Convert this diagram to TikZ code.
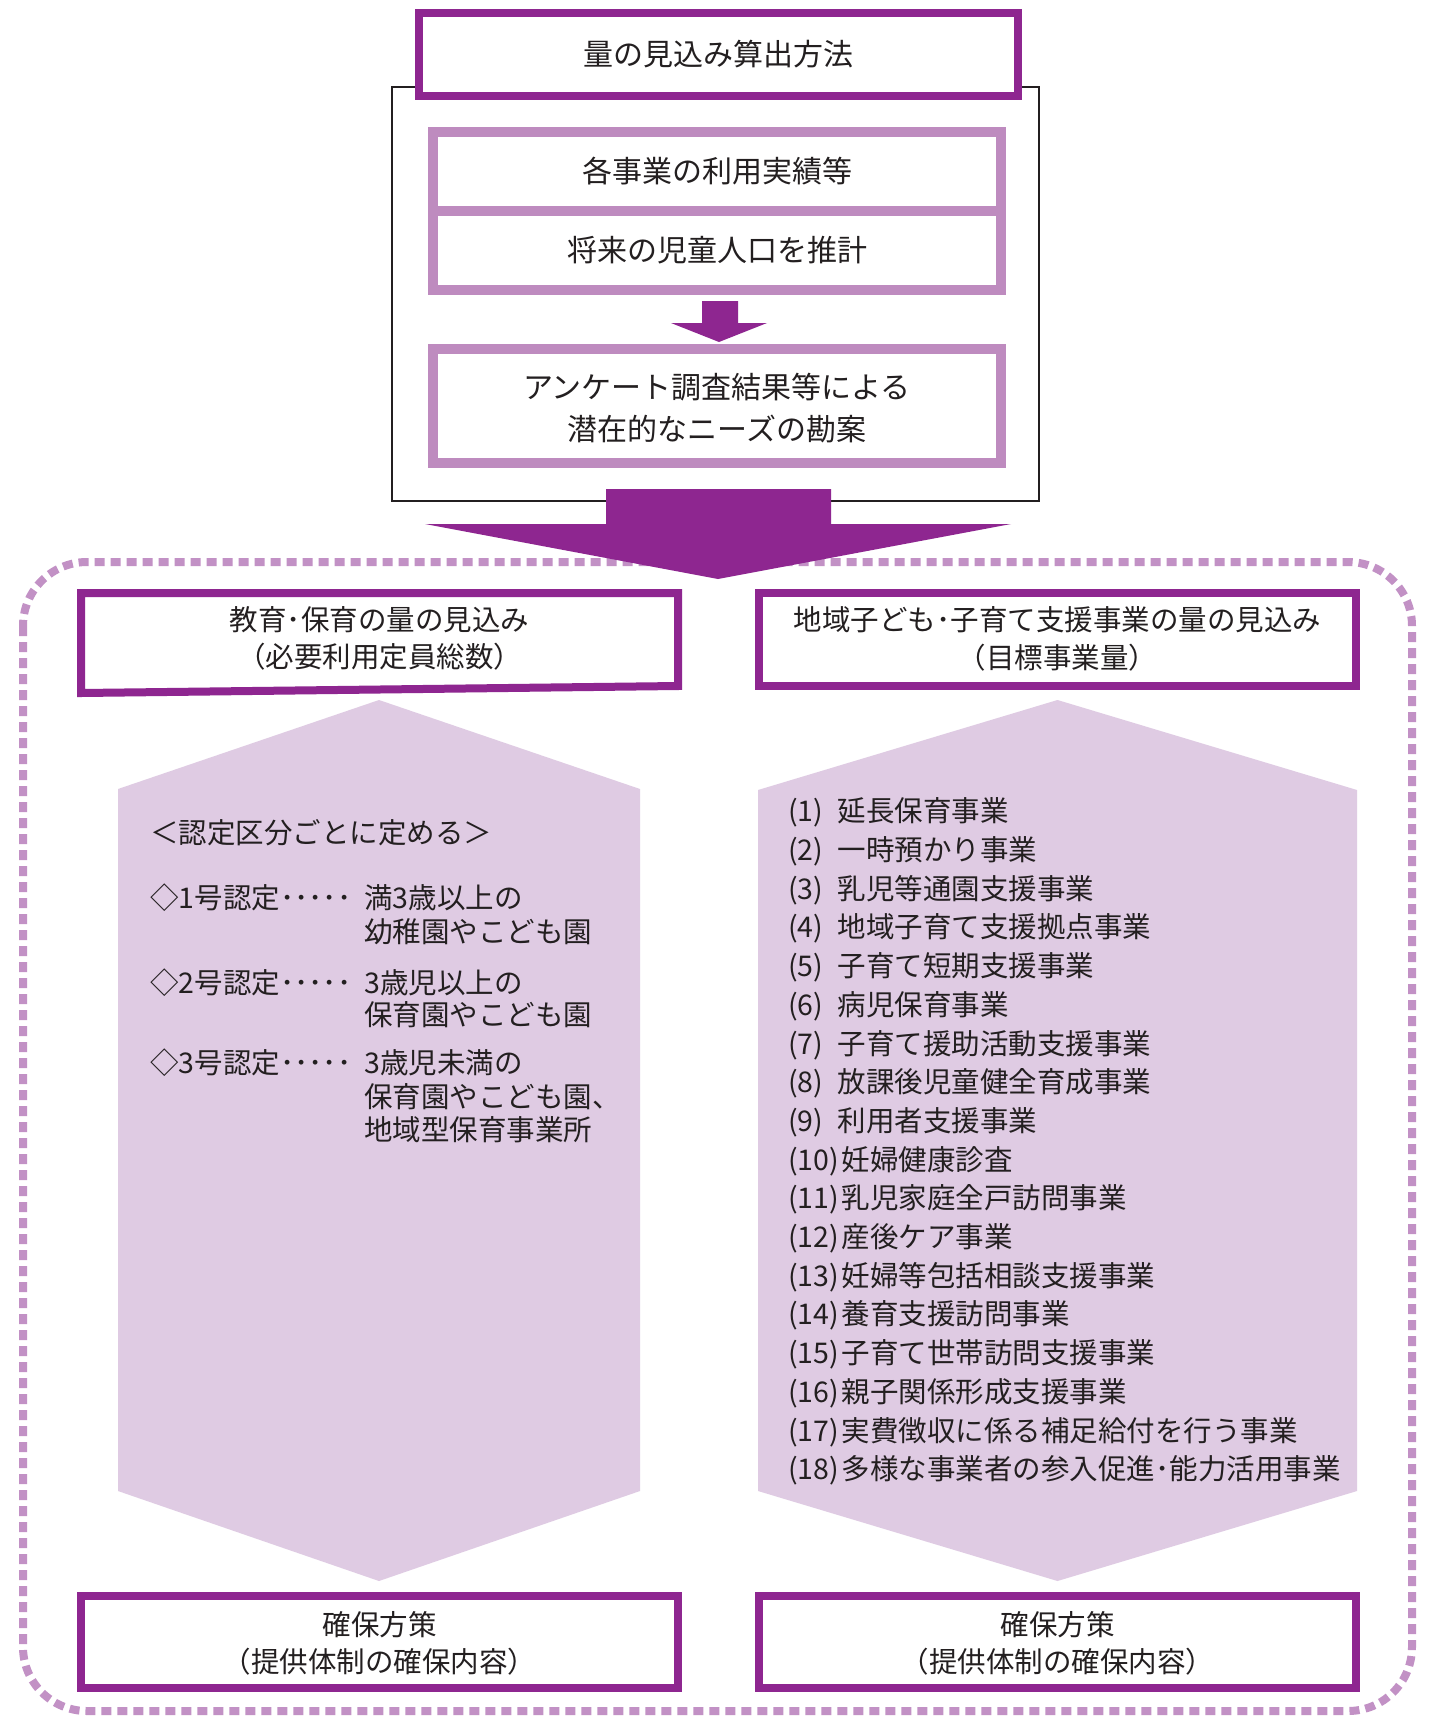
\documentclass[tikz,border=0pt]{standalone}
\usepackage{fontspec}
\setmainfont{Noto Sans CJK JP}
\definecolor{dpurple}{HTML}{8E2690}
\definecolor{lpurple}{HTML}{BE8BBF}
\definecolor{hexfill}{HTML}{DFCBE3}
\definecolor{dashcol}{HTML}{C291C5}
\definecolor{ink}{HTML}{231F20}
\begin{document}
\begin{tikzpicture}[x=1pt,y=-1pt,
  tbig/.style={inner sep=0pt, text=ink, font=\fontsize{30}{36}\selectfont, text height=26.4pt, text depth=3.6pt},
  tmid/.style={inner sep=0pt, text=ink, font=\fontsize{28.5}{34}\selectfont, text height=25.1pt, text depth=3.4pt},
  darkbox/.style={draw=dpurple, line width=8pt, fill=white, inner sep=0pt},
  lightbox/.style={draw=lpurple, line width=10pt, fill=white, inner sep=0pt},
  hexa/.style={fill=hexfill, draw=none},
  dashframe/.style={draw=dashcol, line width=8pt, dash pattern=on 10pt off 6pt, rounded corners=64pt}
]
\useasboundingbox (0,0) rectangle (1433,1719);
\fill[white] (0,0) rectangle (1433,1719);

% dashed frame
\draw[dashframe] (23,562) rectangle (1412,1711);

% black outer frame of top section
\draw[line width=2.5pt, draw=ink] (392,87) rectangle (1039,501);

% title box
\node[darkbox, tbig, minimum width=599pt, minimum height=83pt] (title) at (718,54) {量の見込み算出方法};

% light boxes
\node[lightbox, tbig, minimum width=568pt, minimum height=79.5pt] (b1) at (717,171.25) {各事業の利用実績等};
\node[lightbox, tbig, minimum width=568pt, minimum height=79pt] (b2) at (717,250.5) {将来の児童人口を推計};
\node[lightbox, minimum width=568pt, minimum height=114pt] (b3) at (717,406) {};
\node[tbig] (b3a) at (717,387) {アンケート調査結果等による};
\node[tbig] (b3b) at (717,429) {潜在的なニーズの勘案};

% small arrow
\fill[dpurple] (702,301) -- (738,301) -- (738,323) -- (767,323) -- (719,342) -- (671,323) -- (702,323) -- cycle;

% big arrow
\fill[dpurple] (606,489) -- (831,489) -- (831,524) -- (1011,524) -- (718,579) -- (425,524) -- (606,524) -- cycle;

% hexagons
\fill[hexa] (379,700) -- (640,789) -- (640,1491) -- (379,1581) -- (118,1491) -- (118,789) -- cycle;
\fill[hexa] (1057.5,700) -- (1357,790) -- (1357,1491) -- (1057.5,1581) -- (758,1491) -- (758,790) -- cycle;

% left header (slightly slanted bottom)
\draw[draw=dpurple, line width=8pt, fill=white] (81,593) -- (678,593) -- (678,686) -- (81,693) -- cycle;
\node[tmid] (lh1) at (379.5,620) {教育･保育の量の見込み};
\node[tmid] (lh2) at (379.5,657) {（必要利用定員総数）};

% right header
\node[darkbox, minimum width=597pt, minimum height=93pt] (rh) at (1057.5,639.5) {};
\node[tmid] (rh1) at (1057.5,620) {地域子ども･子育て支援事業の量の見込み};
\node[tmid] (rh2) at (1057.5,658) {（目標事業量）};

% bottom boxes
\node[darkbox, minimum width=597pt, minimum height=92pt] (lb) at (379.5,1642) {};
\node[tmid] (lb1) at (379.5,1625) {確保方策};
\node[tmid] (lb2) at (379.5,1662) {（提供体制の確保内容）};
\node[darkbox, minimum width=597pt, minimum height=92pt] (rb) at (1057.5,1642) {};
\node[tmid] (rb1) at (1057.5,1625) {確保方策};
\node[tmid] (rb2) at (1057.5,1662) {（提供体制の確保内容）};

% left list
\node[tmid, anchor=west] (l0) at (150,833) {＜認定区分ごとに定める＞};
\node[tmid, anchor=west] (l1) at (150,898) {◇1号認定･････};
\node[tmid, anchor=west] (l1a) at (364,898) {満3歳以上の};
\node[tmid, anchor=west] (l1b) at (364,932) {幼稚園やこども園};
\node[tmid, anchor=west] (l2) at (150,983) {◇2号認定･････};
\node[tmid, anchor=west] (l2a) at (364,983) {3歳児以上の};
\node[tmid, anchor=west] (l2b) at (364,1015) {保育園やこども園};
\node[tmid, anchor=west] (l3) at (150,1063) {◇3号認定･････};
\node[tmid, anchor=west] (l3a) at (364,1063) {3歳児未満の};
\node[tmid, anchor=west] (l3b) at (364,1097) {保育園やこども園、};
\node[tmid, anchor=west] (l3c) at (364,1130) {地域型保育事業所};

% right list
\foreach \t [count=\i] in {
  {(1)\hspace{0.5em}延長保育事業},
  {(2)\hspace{0.5em}一時預かり事業},
  {(3)\hspace{0.5em}乳児等通園支援事業},
  {(4)\hspace{0.5em}地域子育て支援拠点事業},
  {(5)\hspace{0.5em}子育て短期支援事業},
  {(6)\hspace{0.5em}病児保育事業},
  {(7)\hspace{0.5em}子育て援助活動支援事業},
  {(8)\hspace{0.5em}放課後児童健全育成事業},
  {(9)\hspace{0.5em}利用者支援事業},
  {(10)\hspace{0.1em}妊婦健康診査},
  {(11)\hspace{0.1em}乳児家庭全戸訪問事業},
  {(12)\hspace{0.1em}産後ケア事業},
  {(13)\hspace{0.1em}妊婦等包括相談支援事業},
  {(14)\hspace{0.1em}養育支援訪問事業},
  {(15)\hspace{0.1em}子育て世帯訪問支援事業},
  {(16)\hspace{0.1em}親子関係形成支援事業},
  {(17)\hspace{0.1em}実費徴収に係る補足給付を行う事業},
  {(18)\hspace{0.1em}多様な事業者の参入促進･能力活用事業}}
{
  \node[tmid, anchor=west] (r\i) at (788,{811+(\i-1)*38.7}) {\t};
}
\end{tikzpicture}
\end{document}
